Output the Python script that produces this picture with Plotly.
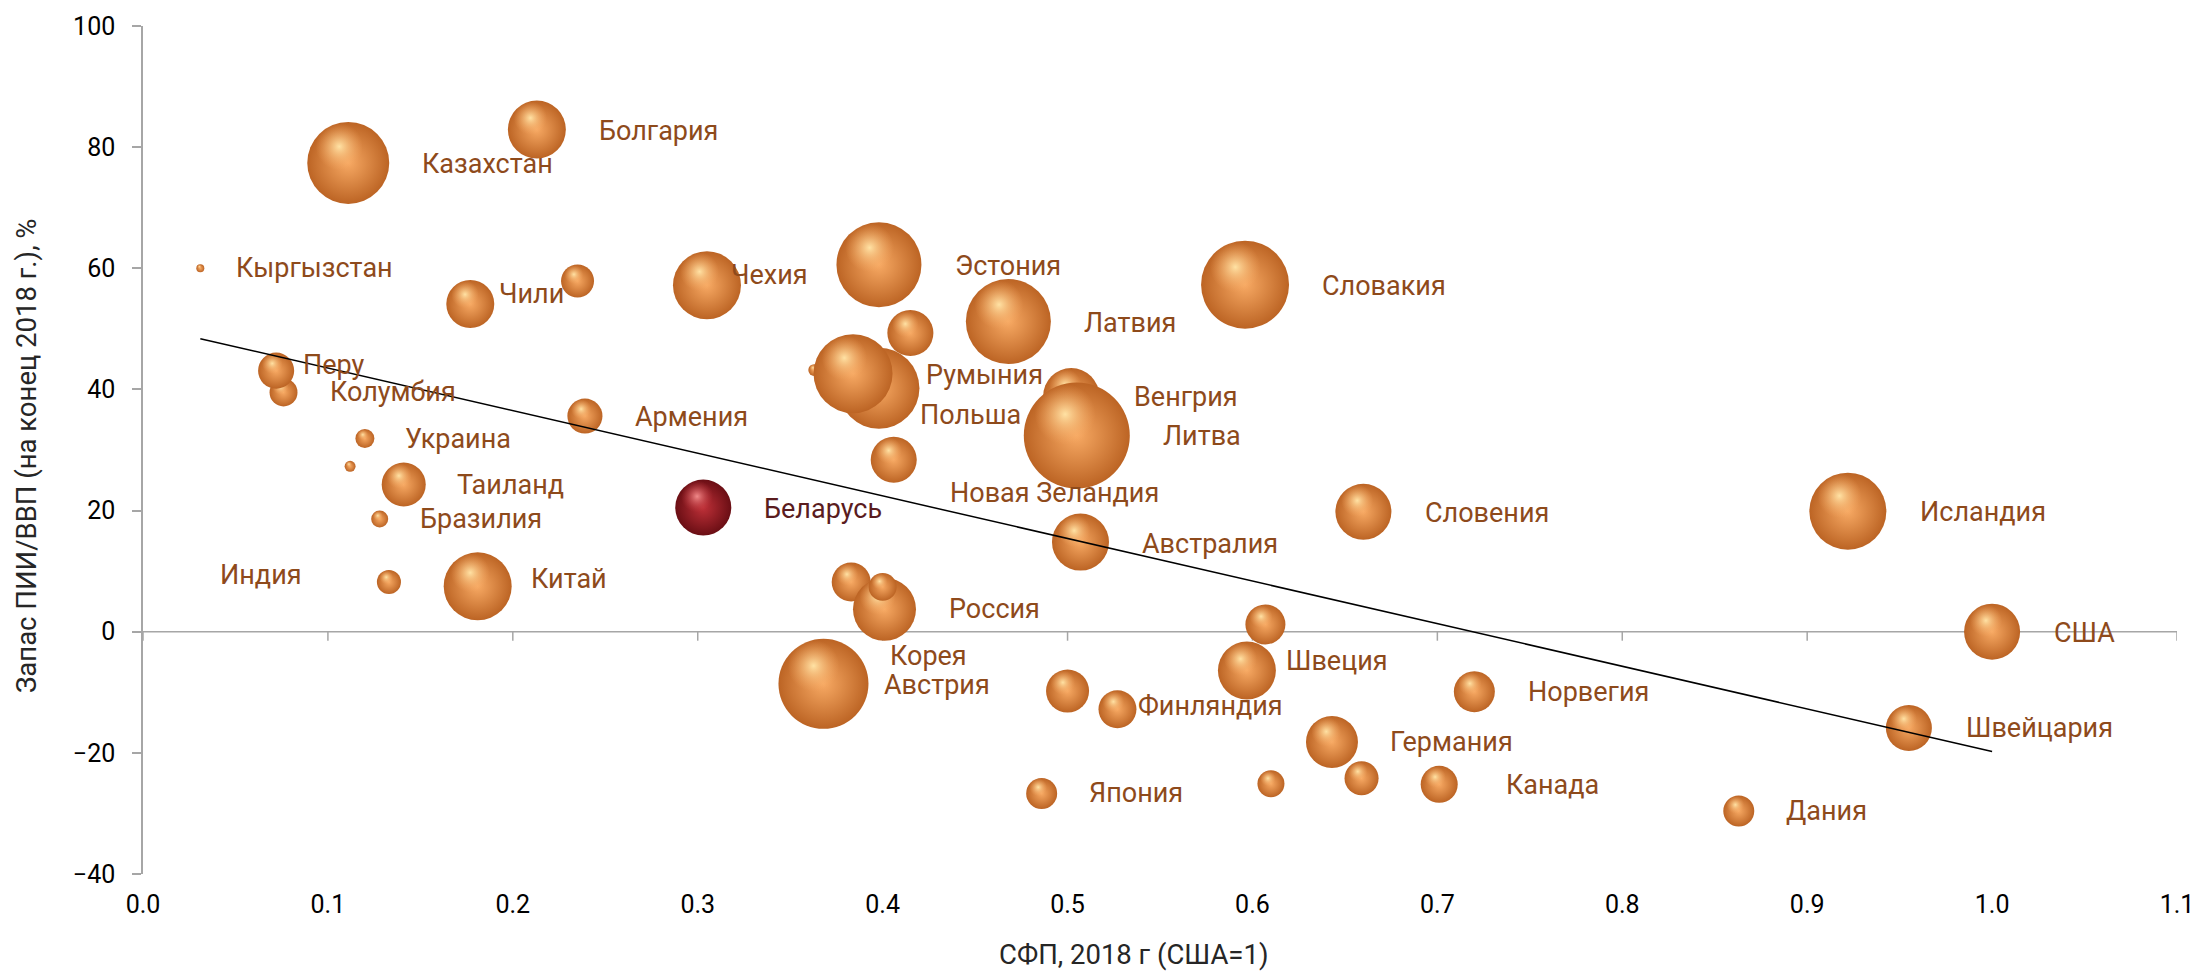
import numpy as np
import plotly.graph_objects as go

# ---------------- data ----------------
countries = ["Кыргызстан", "Казахстан", "Болгария", "Чили", "", "Чехия", "Эстония", "",
             "Латвия", "Словакия", "Колумбия", "Перу", "", "Польша", "Румыния", "Венгрия",
             "Литва", "Армения", "Украина", "", "Новая Зеландия", "Таиланд", "Бразилия",
             "Словения", "Исландия", "Австралия", "Индия", "Китай", "", "Россия", "", "",
             "США", "Корея", "Австрия", "Финляндия", "Швеция", "Норвегия", "Германия",
             "Швейцария", "", "", "Канада", "Япония", "Дания"]
tfp = [0.031, 0.111, 0.213, 0.177, 0.235, 0.305, 0.398, 0.415,
       0.468, 0.596, 0.076, 0.072, 0.363, 0.398, 0.384, 0.502,
       0.505, 0.239, 0.120, 0.112, 0.406, 0.141, 0.128,
       0.660, 0.922, 0.507, 0.133, 0.181, 0.383, 0.401, 0.400, 0.607,
       1.000, 0.500, 0.368, 0.527, 0.597, 0.720, 0.643,
       0.955, 0.610, 0.659, 0.701, 0.486, 0.863]
fdi = [60.0, 77.4, 82.9, 54.1, 57.9, 57.2, 60.6, 49.3,
       51.2, 57.3, 39.5, 43.1, 43.2, 40.2, 42.6, 38.9,
       32.4, 35.6, 31.9, 27.3, 28.4, 24.3, 18.6,
       19.8, 19.9, 14.8, 8.2, 7.5, 8.2, 3.7, 7.4, 1.2,
       0.0, -9.8, -8.6, -12.8, -6.4, -9.9, -18.2,
       -15.9, -25.1, -24.2, -25.2, -26.7, -29.6]
bubble = [0.64, 67.2, 33.6, 23.0, 10.9, 46.2, 72.3, 21.2,
          72.3, 77.4, 7.8, 13.0, 1.4, 65.6, 62.4, 31.4,
          112.4, 12.3, 3.6, 1.2, 21.2, 19.4, 2.9,
          31.4, 59.3, 32.5, 5.8, 46.2, 15.2, 39.7, 7.8, 16.0,
          31.4, 18.5, 81.0, 14.4, 33.6, 16.8, 27.0,
          21.2, 7.3, 11.6, 13.7, 9.6, 9.6]

by_name = ["Беларусь"]
by_tfp = [0.303]
by_fdi = [20.5]
by_bubble = [31.4]

x_ticks = [0.0, 0.1, 0.2, 0.3, 0.4, 0.5, 0.6, 0.7, 0.8, 0.9, 1.0, 1.1]
y_ticks = [-40, -20, 0, 20, 40, 60, 80, 100]

# label placement (pixel offsets from bubble centre: right, down)
label_offsets = {
    "Кыргызстан": (34, 0), "Казахстан": (72, 1), "Болгария": (60, 1), "Чили": (27, -10),
    "Чехия": (22, -10), "Эстония": (74, 1), "Латвия": (74, 1), "Словакия": (75, 1),
    "Колумбия": (44, 0), "Перу": (25, -6), "Польша": (39, 27), "Румыния": (71, 1),
    "Венгрия": (61, 1), "Литва": (84, 1), "Армения": (48, 1), "Украина": (38, 1),
    "Новая Зеландия": (54, 33), "Таиланд": (51, 0), "Бразилия": (38, 0),
    "Словения": (60, 1), "Исландия": (70, 1), "Австралия": (60, 2), "Индия": (-171, -7),
    "Китай": (51, -7), "Россия": (63, 0), "США": (60, 1), "Корея": (-180, -35),
    "Австрия": (59, 1), "Финляндия": (19, -3), "Швеция": (37, -9), "Норвегия": (52, 0),
    "Германия": (56, 0), "Швейцария": (55, 0), "Канада": (65, 1), "Япония": (45, 0),
    "Дания": (45, 0), "Беларусь": (59, 1),
}

FONT = "Roboto, 'Open Sans', sans-serif"
LABEL_COLOR = "#8E4A1B"
BY_LABEL_COLOR = "#5A1C1E"
AXIS_GRAY = "#A6A6A6"
SIZEREF = 0.02
X_RANGE = [0, 1.1]
Y_RANGE = [-40, 100]
WIDTH, HEIGHT = 2206, 973
MARGIN = dict(l=143, r=23, t=24, b=99)

px_per_x = (WIDTH - MARGIN["l"] - MARGIN["r"]) / (X_RANGE[1] - X_RANGE[0])
px_per_y = (HEIGHT - MARGIN["t"] - MARGIN["b"]) / (Y_RANGE[1] - Y_RANGE[0])


def sphere_points(xs, ys, vals, body, rim, spot, spot_fade):
    """Interleave each bubble with a soft highlight placed up-left on it."""
    px, py, sz, col, gcol = [], [], [], [], []
    for xv, yv, v in zip(xs, ys, vals):
        d = 2 * np.sqrt(v / (2 * SIZEREF))          # rendered diameter in px
        px += [xv, xv - 0.11 * d / px_per_x]
        py += [yv, yv + 0.20 * d / px_per_y]
        sz += [v, v * 0.33]
        col += [rim, spot_fade]
        gcol += [body, spot]
    return px, py, sz, col, gcol


fig = go.Figure()

ox, oy, osz, ocol, ogc = sphere_points(tfp, fdi, bubble, "#F7A963", "#BC6424",
                                       "#FFE2A4", "rgba(247,170,100,0)")
fig.add_trace(go.Scatter(
    x=ox, y=oy, mode="markers", hoverinfo="skip",
    marker=dict(size=osz, sizemode="area", sizeref=SIZEREF, opacity=1,
                color=ocol, gradient=dict(type="radial", color=ogc),
                line=dict(width=0)),
    showlegend=False))

bx, byy, bsz, bcol, bgc = sphere_points(by_tfp, by_fdi, by_bubble, "#BE3038", "#6A0E14",
                                        "#F08A8A", "rgba(196,56,62,0)")
fig.add_trace(go.Scatter(
    x=bx, y=byy, mode="markers", hoverinfo="skip",
    marker=dict(size=bsz, sizemode="area", sizeref=SIZEREF, opacity=1,
                color=bcol, gradient=dict(type="radial", color=bgc),
                line=dict(width=0)),
    showlegend=False))

# linear trend line over all points
all_x = np.array(tfp + by_tfp)
all_y = np.array(fdi + by_fdi)
slope, intercept = np.polyfit(all_x, all_y, 1)
tx = np.array([all_x.min(), all_x.max()])
fig.add_trace(go.Scatter(x=tx, y=slope * tx + intercept, mode="lines",
                         line=dict(color="black", width=1.5),
                         hoverinfo="skip", showlegend=False))

annotations = []
for name, xv, yv in list(zip(countries, tfp, fdi)) + list(zip(by_name, by_tfp, by_fdi)):
    if not name or name not in label_offsets:
        continue
    dx, dy = label_offsets[name]
    annotations.append(dict(
        x=xv, y=yv, xref="x", yref="y", text=name, showarrow=False,
        xanchor="left", yanchor="middle", xshift=dx, yshift=-dy,
        font=dict(family=FONT, size=27,
                  color=BY_LABEL_COLOR if name == "Беларусь" else LABEL_COLOR)))

annotations.append(dict(
    text="СФП, 2018 г (США=1)", xref="paper", yref="paper", x=0.487, y=-0.095,
    xanchor="center", yanchor="middle", showarrow=False,
    font=dict(family=FONT, size=27.5, color="#262626")))
annotations.append(dict(
    text="Запас ПИИ/ВВП (на конец 2018 г.), %", xref="paper", yref="paper",
    x=-0.057, y=0.493, xanchor="center", yanchor="middle", textangle=-90,
    showarrow=False, font=dict(family=FONT, size=27.5, color="#262626")))

# horizontal axis line drawn through y = 0 with its tick marks
shapes = [dict(type="line", xref="x", yref="y", x0=x_ticks[0], x1=x_ticks[-1], y0=0, y1=0,
               line=dict(color=AXIS_GRAY, width=1.5), layer="below")]
for t in x_ticks:
    shapes.append(dict(type="line", xref="x", yref="y", x0=t, x1=t,
                       ysizemode="pixel", yanchor=0, y0=0, y1=-9,
                       line=dict(color=AXIS_GRAY, width=1.5), layer="below"))

fig.update_layout(
    width=WIDTH, height=HEIGHT,
    margin=MARGIN,
    paper_bgcolor="white", plot_bgcolor="white",
    font=dict(family=FONT, size=25, color="black"),
    annotations=annotations, shapes=shapes,
    xaxis=dict(range=X_RANGE, tickvals=x_ticks, tickformat=".1f",
               showgrid=False, zeroline=False, showline=False,
               ticks="outside", ticklen=8, tickcolor="rgba(0,0,0,0)",
               tickfont=dict(family=FONT, size=25, color="black")),
    yaxis=dict(range=Y_RANGE, tickvals=y_ticks,
               showgrid=False, zeroline=False, showline=True,
               linecolor=AXIS_GRAY, linewidth=1.5,
               ticks="outside", ticklen=9, tickcolor=AXIS_GRAY, tickwidth=1.5,
               ticklabelstandoff=12,
               tickfont=dict(family=FONT, size=25, color="black")),
)

fig.write_html("out.html", config={"displayModeBar": False},
               post_script="document.body.style.margin='0';document.body.style.overflow='hidden';")
